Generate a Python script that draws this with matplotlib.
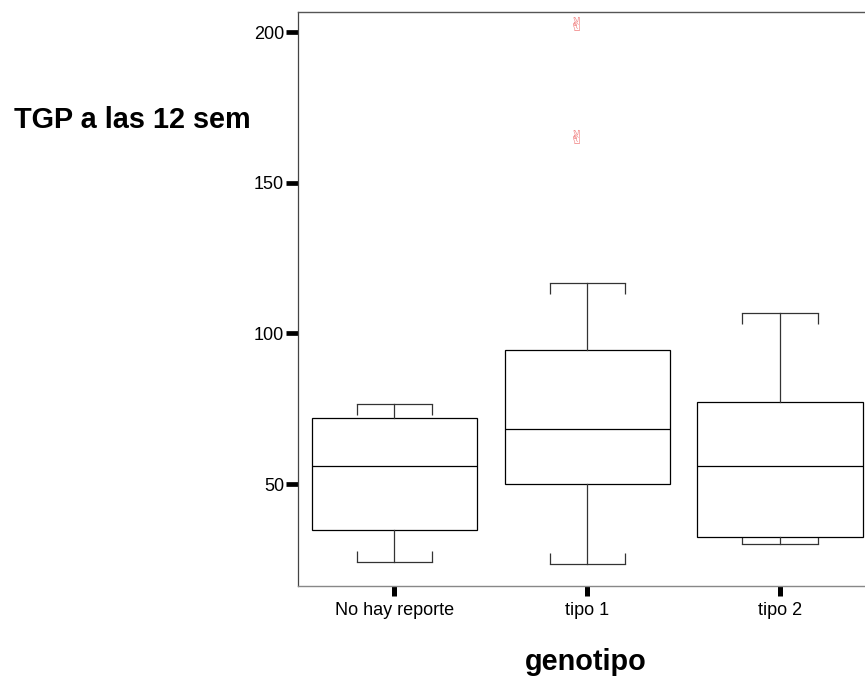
import matplotlib
matplotlib.use("Agg")
import matplotlib.pyplot as plt
import matplotlib.transforms as mtransforms

plt.rcParams['font.family'] = ['Liberation Sans', 'DejaVu Sans']

# Resumen de TGP a las 12 semanas por genotipo
categorias = ["No hay reporte", "tipo 1", "tipo 2"]
bigote_inf = [24.0, 23.4, 30.1]
q1 = [34.7, 50.0, 32.3]
mediana = [56.0, 68.4, 56.1]
q3 = [71.8, 94.5, 77.1]
bigote_sup = [76.5, 116.8, 106.8]
atipicos = [[], [164.5, 202.2], []]

y_ticks = [50, 100, 150, 200]

fig = plt.figure(figsize=(8.65, 6.78), dpi=100)
ax = fig.add_axes([0.3445, 0.1361, 0.6688, 0.8469])

stats = []
for i, nombre in enumerate(categorias):
    stats.append({
        "label": nombre,
        "whislo": bigote_inf[i],
        "q1": q1[i],
        "med": mediana[i],
        "q3": q3[i],
        "whishi": bigote_sup[i],
        "fliers": [],
    })

posiciones = list(range(len(categorias)))
ancho_caja = 0.857
ancho_tope = 0.39
ax.bxp(stats, positions=posiciones, widths=ancho_caja, capwidths=ancho_tope,
       patch_artist=True, showfliers=False,
       boxprops=dict(facecolor="white", edgecolor="black", linewidth=0.9),
       medianprops=dict(color="black", linewidth=0.9),
       whiskerprops=dict(color="#333333", linewidth=0.9),
       capprops=dict(color="#333333", linewidth=0.9),
       manage_ticks=False, zorder=3)

# marcas cortas en los extremos de los topes, apuntando hacia la caja
largo = 3.7
for i, x in enumerate(posiciones):
    for dx in (-ancho_tope / 2, ancho_tope / 2):
        ax.vlines(x + dx, bigote_sup[i] - largo, bigote_sup[i],
                  color="#333333", linewidth=0.9, zorder=2)
        ax.vlines(x + dx, bigote_inf[i], bigote_inf[i] + largo,
                  color="#333333", linewidth=0.9, zorder=2)

# valores atipicos
desplaz = mtransforms.offset_copy(ax.transData, fig=fig, x=-10, y=0, units="dots")
for i, vals in enumerate(atipicos):
    for v in vals:
        ax.text(posiciones[i], v, "\u270c", transform=desplaz, ha="center",
                va="center", fontsize=14, color="#f07a7a",
                family=["DejaVu Sans"], zorder=4)

ax.set_xlim(-0.5, 2.5)
ax.set_ylim(16.25, 206.8)
ax.set_xticks(posiciones)
ax.set_xticklabels(categorias)
ax.set_yticks(y_ticks)
ax.set_yticklabels([str(t) for t in y_ticks])

ax.tick_params(axis="y", direction="out", length=8.6, width=3.4, color="black",
               labelsize=13, pad=1.5)
ax.tick_params(axis="x", direction="out", length=7.5, width=3.6, color="black",
               labelsize=13, pad=4)

ax.spines["left"].set_color("#444444")
ax.spines["left"].set_linewidth(0.9)
ax.spines["bottom"].set_color("#888888")
ax.spines["bottom"].set_linewidth(1.0)
ax.spines["top"].set_color("#555555")
ax.spines["top"].set_linewidth(1.0)
ax.spines["right"].set_visible(False)

ax.set_ylabel("TGP a las 12 sem", rotation=0, fontsize=20.8, fontweight="bold",
              ha="center", va="center")
ax.yaxis.set_label_coords(-0.287, 0.811)
ax.set_xlabel("genotipo", fontsize=20.8, fontweight="bold", va="baseline")
ax.xaxis.set_label_coords(0.498, -0.147)

fig.savefig("out.png", dpi=100)
